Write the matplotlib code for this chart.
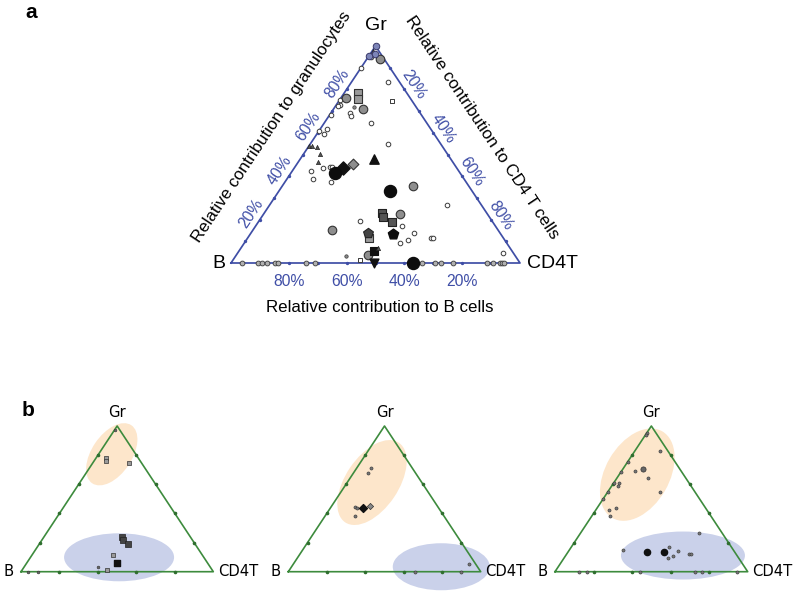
import numpy as np
import matplotlib
matplotlib.use("Agg")
import matplotlib.pyplot as plt
from matplotlib.patches import Ellipse
from matplotlib.transforms import Affine2D

# ---------------- data (ternary: gr = granulocyte fraction, t = CD4T fraction; B = 1-gr-t)
# Panel a
open_gr = [0.833, 0.751, 0.730, 0.724, 0.690, 0.677, 0.682, 0.647, 0.616, 0.608, 0.593, 0.548,
           0.443, 0.441, 0.439, 0.423, 0.386, 0.375, 0.267, 0.195, 0.171, 0.140, 0.106, 0.094,
           0.115, 0.115, 0.047, 0.897, 0.950]
open_t = [0.128, 0.000, 0.012, 0.008, 0.067, 0.077, 0.004, 0.160, 0.025, 0.000, 0.026, 0.270,
          0.120, 0.130, 0.100, 0.067, 0.090, 0.157, 0.613, 0.350, 0.505, 0.564, 0.560, 0.538,
          0.633, 0.642, 0.917, 0.000, 0.010]
base_t = [0.037, 0.095, 0.106, 0.123, 0.152, 0.164, 0.260, 0.291, 0.660, 0.706, 0.725, 0.768,
          0.885, 0.908, 0.931, 0.937, 0.943]
tiny_gr = [0.717, 0.032]
tiny_t = [0.068, 0.382]
osq_gr = [0.748, 0.014]
osq_t = [0.184, 0.439]
gcirc_gr = [0.939, 0.759, 0.710, 0.356, 0.226, 0.152, 0.037]
gcirc_t = [0.046, 0.020, 0.103, 0.453, 0.472, 0.272, 0.455]
gsq_gr = [0.782, 0.756, 0.114]
gsq_t = [0.047, 0.060, 0.420]
dsq_gr = [0.232, 0.213, 0.188]
dsq_t = [0.408, 0.420, 0.462]
bsq_gr = [0.057]
bsq_t = [0.466]
ttri_gr = [0.536, 0.540, 0.540, 0.501, 0.467, 0.068, 0.975]
ttri_t = [0.028, 0.000, 0.009, 0.057, 0.067, 0.475, 0.005]
btri_gr = [0.481]
btri_t = [0.254]
gdia_gr = [0.456]
gdia_t = [0.195]
bdia_gr = [0.439]
bdia_t = [0.167]
bcirc_gr = [0.413, 0.333, 0.000]
bcirc_t = [0.154, 0.384, 0.631]
dpent_gr = [0.140]
dpent_t = [0.405]
bpent_gr = [0.134]
bpent_t = [0.495]
bdown_gr = [0.000]
bdown_t = [0.496]
apex_gr = [1.000, 0.965, 0.955]
apex_t = [0.000, 0.015, 0.000]

# Panel b (three triangles)
p1_sq_gr = [0.778, 0.762, 0.748, 0.117, 0.012]
p1_sq_t = [0.053, 0.061, 0.189, 0.420, 0.443]
p1_dsq_gr = [0.236, 0.218, 0.190]
p1_dsq_t = [0.406, 0.420, 0.463]
p1_bsq_gr = [0.058]
p1_bsq_t = [0.469]
p1_dot_gr = [0.034, 0.0, 0.0, 0.973]
p1_dot_t = [0.382, 0.038, 0.087, 0.002]

p2_dot_gr = [0.714, 0.675, 0.442, 0.439, 0.382, 0.051, 0.0, 0.0]
p2_dot_t = [0.071, 0.078, 0.126, 0.136, 0.156, 0.915, 0.659, 0.899]
p2_blk_gr = [0.435]
p2_blk_t = [0.169]
p2_dia_gr = [0.453]
p2_dia_t = [0.198]

p3_dot_gr = [0.954, 0.938, 0.828, 0.755, 0.686, 0.691, 0.645, 0.611, 0.611, 0.590, 0.550, 0.500,
             0.547, 0.423, 0.435, 0.382, 0.268, 0.149, 0.167, 0.142, 0.110, 0.096, 0.119, 0.119,
             0.0, 0.0, 0.0, 0.0, 0.0, 0.0]
p3_dot_t = [0.002, 0.003, 0.131, 0.000, 0.000, 0.070, 0.162, 0.000, 0.028, 0.030, 0.000, 0.000,
            0.273, 0.070, 0.100, 0.094, 0.615, 0.280, 0.510, 0.566, 0.559, 0.540, 0.637, 0.645,
            0.126, 0.164, 0.441, 0.727, 0.761, 0.943]
p3_gc_gr = [0.707]
p3_gc_t = [0.105]
p3_blk_gr = [0.137, 0.133]
p3_blk_t = [0.407, 0.499]

pct_ticks = [0.2, 0.4, 0.6, 0.8]
pct_labels = ["20%", "40%", "60%", "80%"]

# ---------------- helpers
W, H = 800, 597
fig = plt.figure(figsize=(8, 5.97), dpi=100)


def fx(x):
    return x / W


def fy(y):
    return 1 - y / H


def tern(gr, t):
    gr = np.asarray(gr, float)
    t = np.asarray(t, float)
    return t + gr / 2.0, gr


def make_ax(xl, xr, ytop, ybot):
    ax = fig.add_axes([fx(xl), fy(ybot), (xr - xl) / W, (ybot - ytop) / H])
    ax.set_xlim(0, 1)
    ax.set_ylim(0, 1)
    ax.axis("off")
    return ax, (xr - xl), (ybot - ytop)


def sc(ax, gr, t, **kw):
    x, y = tern(gr, t)
    kw.setdefault("zorder", 4)
    ax.scatter(x, y, clip_on=False, **kw)


# ================= Panel a =================
blue = "#3f4ea6"
axa, wa, ha = make_ax(231, 520, 46, 263)
axa.plot([0, 1, 0.5, 0], [0, 0, 1, 0], color=blue, lw=1.25, zorder=2, clip_on=False)
# edge tick dots
for p in pct_ticks + [0.1, 0.3, 0.5, 0.7, 0.9]:
    for (g, tt) in [(0, p), (p, 0), (1 - p, p)]:
        x, y = tern([g], [tt])
        axa.plot(x, y, "o", ms=1.4, color=blue, zorder=3, clip_on=False)

ec = "#3a3a3a"
sc(axa, [0] * len(base_t), base_t, s=12, marker="o", facecolor="#b0b0b0", edgecolor=ec, linewidths=0.6)
sc(axa, open_gr, open_t, s=11, marker="o", facecolor="white", edgecolor=ec, linewidths=0.7)
sc(axa, tiny_gr, tiny_t, s=6, marker="o", facecolor="#888888", edgecolor=ec, linewidths=0.5)
sc(axa, osq_gr, osq_t, s=12, marker="s", facecolor="white", edgecolor=ec, linewidths=0.7)
sc(axa, gcirc_gr, gcirc_t, s=38, marker="o", facecolor="#8e8e8e", edgecolor="#333333", linewidths=0.8)
sc(axa, gsq_gr, gsq_t, s=26, marker="s", facecolor="#9a9a9a", edgecolor="#333333", linewidths=0.8)
sc(axa, dsq_gr, dsq_t, s=34, marker="s", facecolor="#555555", edgecolor="#222222", linewidths=0.8)
sc(axa, bsq_gr, bsq_t, s=38, marker="s", facecolor="#111111", edgecolor="#111111", linewidths=0.8)
sc(axa, ttri_gr, ttri_t, s=9, marker="^", facecolor="#555555", edgecolor="#222222", linewidths=0.5)
sc(axa, btri_gr, btri_t, s=45, marker="^", facecolor="#111111", edgecolor="#111111")
sc(axa, gdia_gr, gdia_t, s=30, marker="D", facecolor="#8e8e8e", edgecolor="#333333", linewidths=0.8)
sc(axa, bdia_gr, bdia_t, s=45, marker="D", facecolor="#111111", edgecolor="#111111")
sc(axa, bcirc_gr, bcirc_t, s=75, marker="o", facecolor="#0d0d0d", edgecolor="#0d0d0d")
sc(axa, dpent_gr, dpent_t, s=55, marker="p", facecolor="#444444", edgecolor="#222222", linewidths=0.8)
sc(axa, bpent_gr, bpent_t, s=60, marker="p", facecolor="#0d0d0d", edgecolor="#0d0d0d")
sc(axa, bdown_gr, bdown_t, s=40, marker="v", facecolor="#111111", edgecolor="#111111")
sc(axa, apex_gr, apex_t, s=22, marker="o", facecolor="#7d85b8", edgecolor="#3a3a6a", linewidths=0.7)

# percentage labels
ang = np.degrees(np.arctan2(ha, wa / 2))
lbl_kw = dict(color=blue, fontsize=11.3, family="Liberation Sans", ha="center", va="center",
              textcoords="offset points", annotation_clip=False)
for p, s in zip(pct_ticks, pct_labels):
    # B axis (bottom): p of B cells -> t = 1-p
    x, y = tern([0], [1 - p])
    axa.annotate(s, (x[0], y[0]), xytext=(0, -13.5), **lbl_kw)
    # granulocytes (left edge)
    x, y = tern([p], [0])
    axa.annotate(s, (x[0], y[0]), xytext=(-6.5, 4.5), rotation=ang, **lbl_kw)
    # CD4T (right edge)
    x, y = tern([1 - p], [p])
    axa.annotate(s, (x[0], y[0]), xytext=(6.8, 3.2), rotation=-ang, **lbl_kw)

tkw = dict(family="Liberation Sans", color="black")
fig.text(fx(219), fy(263), "B", fontsize=14, ha="center", va="center", **tkw)
fig.text(fx(527), fy(263), "CD4T", fontsize=14, ha="left", va="center", **tkw)
fig.text(fx(376), fy(26), "Gr", fontsize=14, ha="center", va="center", **tkw)
fig.text(fx(272), fy(127), "Relative contribution to granulocytes", fontsize=12.2,
         rotation=ang, rotation_mode="anchor", ha="center", va="center", **tkw)
fig.text(fx(482), fy(128), "Relative contribution to CD4 T cells", fontsize=12.2,
         rotation=-ang, rotation_mode="anchor", ha="center", va="center", **tkw)
fig.text(fx(380), fy(307), "Relative contribution to B cells", fontsize=12.2,
         ha="center", va="center", **tkw)
fig.text(fx(31), fy(12), "a", fontsize=15, fontweight="bold", ha="center", va="center", **tkw)
fig.text(fx(28), fy(410), "b", fontsize=15, fontweight="bold", ha="center", va="center", **tkw)

# ================= Panel b =================
green = "#3d8b3d"
orange_c = "#fde6cb"
blue_c = "#cad1ea"
panels = [(21, 213.3), (288.3, 480.7), (555, 747.7)]
ellipses = [
    [((0.472, 0.806), 70, 40, 56, orange_c), ((0.51, 0.099), 110, 48, 0, blue_c)],
    [((0.435, 0.612), 96, 53, 56, orange_c), ((0.795, 0.034), 97, 47, 0, blue_c)],
    [((0.427, 0.666), 100, 64, 60, orange_c), ((0.664, 0.111), 124, 48, 0, blue_c)],
]
axes_b = []
for (xl, xr), ells in zip(panels, ellipses):
    ax, wp, hp = make_ax(xl, xr, 426, 571.7)
    axes_b.append(ax)
    for (c, w, h, a, col) in ells:
        tr = Affine2D().scale(1 / wp, 1 / hp).translate(c[0], c[1]) + ax.transData
        e = Ellipse((0, 0), w, h, angle=a, transform=tr, facecolor=col, edgecolor="none",
                    zorder=1, clip_on=False)
        ax.add_patch(e)
    ax.plot([0, 1, 0.5, 0], [0, 0, 1, 0], color=green, lw=1.2, zorder=2, clip_on=False)
    for p in pct_ticks:
        for (g, tt) in [(0, p), (p, 0), (1 - p, p)]:
            x, y = tern([g], [tt])
            ax.plot(x, y, "o", ms=1.6, color="#2f6e2f", zorder=3, clip_on=False)
    bk = dict(family="DejaVu Sans", fontsize=10.6, color="black")
    ax.annotate("Gr", (0.5, 1), xytext=(0, 9.5), textcoords="offset points", ha="center",
                va="center", annotation_clip=False, **bk)
    ax.annotate("B", (0, 0), xytext=(-9, 0), textcoords="offset points", ha="center",
                va="center", annotation_clip=False, **bk)
    ax.annotate("CD4T", (1, 0), xytext=(3.5, 0), textcoords="offset points", ha="left",
                va="center", annotation_clip=False, **bk)

ax1, ax2, ax3 = axes_b
dk = "#333333"
sc(ax1, p1_sq_gr, p1_sq_t, s=8, marker="s", facecolor="#9a9a9a", edgecolor=dk, linewidths=0.5)
sc(ax1, p1_dsq_gr, p1_dsq_t, s=16, marker="s", facecolor="#444444", edgecolor="#222222", linewidths=0.5)
sc(ax1, p1_bsq_gr, p1_bsq_t, s=20, marker="s", facecolor="#111111", edgecolor="#111111")
sc(ax1, p1_dot_gr, p1_dot_t, s=4, marker="o", facecolor="#666666", edgecolor=dk, linewidths=0.4)

sc(ax2, p2_dot_gr, p2_dot_t, s=5, marker="o", facecolor="#777777", edgecolor=dk, linewidths=0.4)
sc(ax2, p2_blk_gr, p2_blk_t, s=16, marker="D", facecolor="#111111", edgecolor="#111111")
sc(ax2, p2_dia_gr, p2_dia_t, s=10, marker="D", facecolor="#888888", edgecolor=dk, linewidths=0.5)

sc(ax3, p3_dot_gr, p3_dot_t, s=5, marker="o", facecolor="#777777", edgecolor=dk, linewidths=0.4)
sc(ax3, p3_gc_gr, p3_gc_t, s=14, marker="o", facecolor="#666666", edgecolor=dk, linewidths=0.5)
sc(ax3, p3_blk_gr, p3_blk_t, s=20, marker="o", facecolor="#111111", edgecolor="#111111")

fig.savefig("out.png", dpi=100, facecolor="white")
